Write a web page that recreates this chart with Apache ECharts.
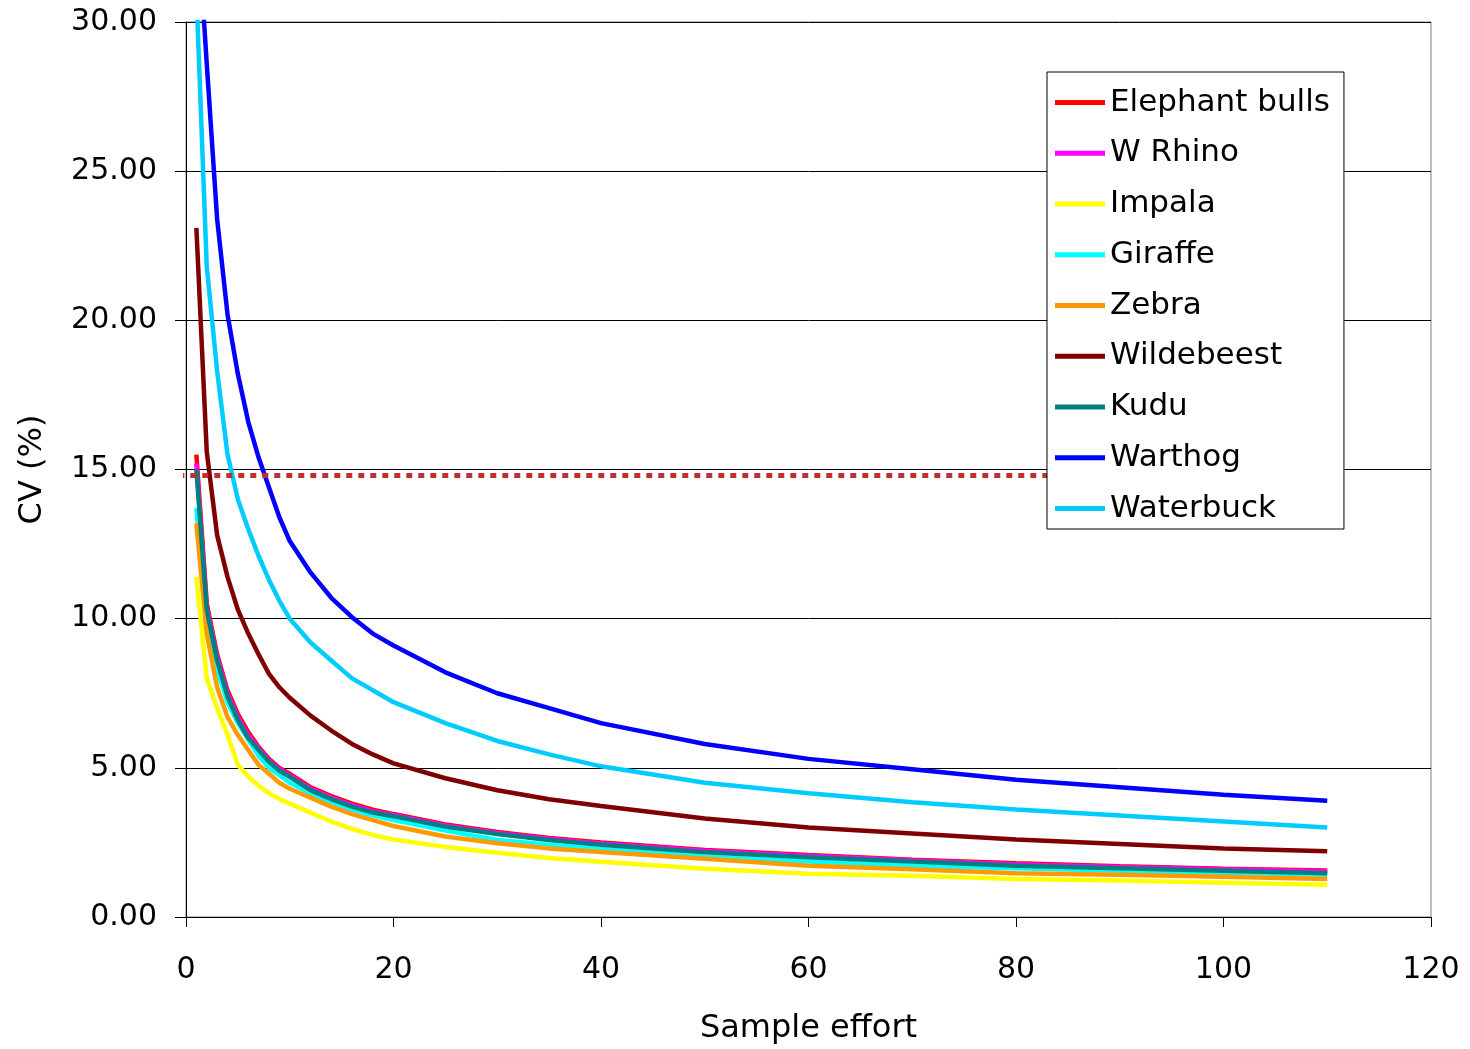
<!DOCTYPE html>
<html>
<head>
<meta charset="utf-8">
<title>CV vs sample effort</title>
<script src="https://cdn.jsdelivr.net/npm/echarts@6/dist/echarts.min.js"></script>
<style>
  html, body { margin: 0; padding: 0; background: #fff; }
  #chart { width: 1470px; height: 1049px; }
</style>
</head>
<body>
<div id="chart"></div>
<script>
var effort = [1, 2, 3, 4, 5, 6, 7, 8, 9, 10, 12, 14, 16, 18, 20, 25, 30, 35, 40, 50, 60, 70, 80, 90, 100, 110];

var elephantBulls = [15.5, 10.5, 8.8, 7.6, 6.8, 6.2, 5.7, 5.3, 5.0, 4.8, 4.35, 4.05, 3.8, 3.6, 3.45, 3.1, 2.85, 2.65, 2.5, 2.25, 2.08, 1.92, 1.8, 1.7, 1.62, 1.56];
var wRhino = [15.2, 10.4, 8.7, 7.5, 6.7, 6.1, 5.65, 5.25, 4.95, 4.75, 4.3, 4.0, 3.75, 3.55, 3.42, 3.07, 2.82, 2.62, 2.46, 2.22, 2.05, 1.9, 1.77, 1.68, 1.6, 1.53];
var impala = [11.4, 8.0, 7.0, 6.1, 5.1, 4.7, 4.4, 4.15, 3.95, 3.8, 3.5, 3.2, 2.95, 2.75, 2.6, 2.35, 2.15, 1.98, 1.85, 1.62, 1.45, 1.38, 1.27, 1.22, 1.15, 1.08];
var giraffe = [13.7, 10.0, 8.3, 7.2, 6.5, 5.95, 5.4, 5.0, 4.75, 4.5, 4.15, 3.85, 3.6, 3.4, 3.25, 2.9, 2.58, 2.42, 2.28, 2.02, 1.86, 1.72, 1.63, 1.55, 1.48, 1.42];
var zebra = [13.2, 9.5, 7.7, 6.7, 6.1, 5.6, 5.1, 4.8, 4.5, 4.3, 4.0, 3.7, 3.45, 3.25, 3.05, 2.7, 2.47, 2.3, 2.18, 1.95, 1.72, 1.6, 1.47, 1.42, 1.35, 1.27];
var wildebeest = [23.1, 15.6, 12.8, 11.4, 10.3, 9.5, 8.8, 8.15, 7.7, 7.35, 6.75, 6.25, 5.8, 5.45, 5.15, 4.65, 4.25, 3.95, 3.72, 3.3, 3.0, 2.8, 2.6, 2.45, 2.3, 2.2];
var kudu = [15.0, 10.3, 8.6, 7.4, 6.6, 6.0, 5.6, 5.2, 4.9, 4.7, 4.25, 3.95, 3.7, 3.5, 3.38, 3.03, 2.78, 2.58, 2.42, 2.17, 2.0, 1.86, 1.72, 1.63, 1.55, 1.47];
var warthog = [34.0, 28.6, 23.4, 20.2, 18.2, 16.6, 15.4, 14.4, 13.4, 12.6, 11.55, 10.7, 10.05, 9.5, 9.1, 8.2, 7.5, 7.0, 6.5, 5.8, 5.3, 4.95, 4.6, 4.35, 4.1, 3.9];
var waterbuck = [31.0, 21.8, 18.3, 15.5, 14.0, 13.0, 12.1, 11.3, 10.6, 10.0, 9.2, 8.6, 8.0, 7.6, 7.2, 6.5, 5.9, 5.45, 5.05, 4.5, 4.15, 3.85, 3.6, 3.4, 3.2, 3.0];

var seriesNames = ['Elephant bulls', 'W Rhino', 'Impala', 'Giraffe', 'Zebra', 'Wildebeest', 'Kudu', 'Warthog', 'Waterbuck'];
var seriesValues = [elephantBulls, wRhino, impala, giraffe, zebra, wildebeest, kudu, warthog, waterbuck];
var colors = ['#ff0000', '#ff00ff', '#ffff00', '#00ffff', '#ff9900', '#800000', '#008080', '#0000ff', '#00ccff'];

// dotted reference line (target CV)
var targetX = [-1.9, 100];
var targetCV = 14.8;

var font = 'DejaVu Sans';

var myChart = echarts.init(document.getElementById('chart'));

var series = [];
seriesValues.map(function (vals, i) {
	series.push({
		name: seriesNames[i],
		type: 'line',
		showSymbol: false,
		lineStyle: { width: 4.5, color: colors[i] },
		data: effort.map(function (x, j) { return [x, vals[j]]; })
	});
});
series.push({
	name: 'target',
	type: 'line',
	showSymbol: false,
	clip: false,
	silent: true,
	lineStyle: { width: 5, color: '#c0302f', type: [6, 6] },
	data: targetX.map(function (x) { return [x, targetCV]; })
});

var option = {
	animation: false,
	backgroundColor: '#fff',
	color: colors,
	grid: {
		left: 186,
		right: 39,
		top: 22,
		bottom: 132,
		outerBoundsMode: 'none', // keep the plot where it is, name may touch the edge
		show: true,
		borderColor: '#808080',
		borderWidth: 1
	},
	legend: {
		data: seriesNames,
		orient: 'vertical',
		left: 1047,
		top: 72,
		icon: 'rect',
		itemWidth: 50,
		itemHeight: 5,
		itemGap: 19.75,
		padding: [15, 14, 5, 8],
		backgroundColor: '#fff',
		borderColor: '#000',
		borderWidth: 1,
		borderRadius: 0,
		textStyle: { fontFamily: font, fontSize: 31, color: '#000', lineHeight: 30 }
	},
	xAxis: {
		type: 'value',
		min: 0,
		max: 120,
		interval: 20,
		name: 'Sample effort',
		nameLocation: 'middle',
		nameGap: 96,
		nameTextStyle: { fontFamily: font, fontSize: 32, color: '#000' },
		axisLine: { show: true, lineStyle: { color: '#000', width: 1 } },
		axisTick: { show: true, inside: false, length: 10, lineStyle: { color: '#000' } },
		axisLabel: { margin: 38, fontFamily: font, fontSize: 30, color: '#000' },
		splitLine: { show: false }
	},
	yAxis: {
		type: 'value',
		min: 0,
		max: 30,
		interval: 5,
		name: 'CV (%)',
		nameLocation: 'middle',
		nameGap: 137,
		nameTextStyle: { fontFamily: font, fontSize: 32, color: '#000' },
		axisLine: { show: true, lineStyle: { color: '#000', width: 1 } },
		axisTick: { show: true, inside: false, length: 11, lineStyle: { color: '#000' } },
		axisLabel: {
			margin: 29,
			fontFamily: font,
			fontSize: 30,
			color: '#000',
			formatter: function (v) { return v.toFixed(2); }
		},
		splitLine: { show: true, lineStyle: { color: '#000', width: 1 } }
	},
	series: series
};

myChart.setOption(option);
</script>
</body>
</html>
